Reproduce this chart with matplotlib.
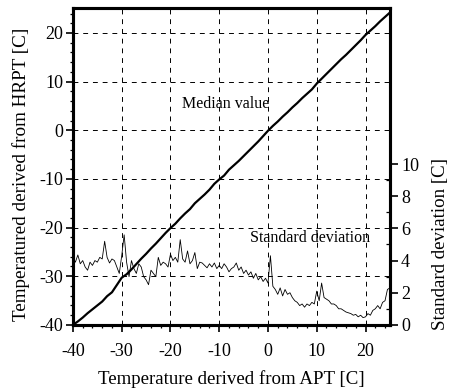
import numpy as np
import matplotlib
matplotlib.use("Agg")
import matplotlib.pyplot as plt
from matplotlib.ticker import MultipleLocator

plt.rcParams['font.family'] = ['Liberation Serif', 'DejaVu Serif']
plt.rcParams['axes.unicode_minus'] = False

# ---- data ----
median_x = list(range(-40, 26))
median_y = [-40.0, -39.3, -38.5, -37.6, -36.8, -36.0, -35.2, -34.1, -33.3, -31.8,
            -30.3, -29.6, -28.6, -27.5, -26.4, -25.4, -24.3, -23.3, -22.2, -21.1,
            -20.1, -19.2, -18.1, -17.1, -16.2, -15.0, -14.1, -13.2, -12.2, -11.0,
            -10.1, -9.3, -8.1, -7.2, -6.3, -5.3, -4.3, -3.3, -2.3, -1.2,
            -0.1, 0.9, 1.8, 2.8, 3.7, 4.7, 5.6, 6.6, 7.5, 8.4,
            9.6, 10.6, 11.6, 12.6, 13.6, 14.6, 15.5, 16.5, 17.5, 18.5,
            19.6, 20.5, 21.4, 22.4, 23.3, 24.2]

std_x = [-40 + 0.5 * i for i in range(131)]
std_y = [4.2, 3.9, 4.35, 3.8, 4.0, 3.6, 3.4, 3.9, 3.7, 4.0,
         3.9, 4.2, 4.1, 5.2, 4.2, 3.85, 4.1, 4.0, 3.6, 3.2,
         4.3, 5.6, 3.9, 3.0, 4.0, 3.5, 3.2, 3.8, 3.6, 3.0,
         2.8, 2.5, 3.4, 3.2, 3.0, 4.2, 3.7, 3.9, 3.8, 3.6,
         4.4, 4.0, 4.2, 3.9, 5.3, 4.1, 3.9, 4.6, 3.8, 4.0,
         4.5, 3.5, 3.9, 3.85, 3.7, 3.55, 3.8, 3.6, 3.85, 3.5,
         3.7, 3.5, 3.8, 3.6, 3.3, 3.5, 3.6, 3.85, 3.4, 3.6,
         3.2, 3.4, 3.1, 3.3, 2.9, 3.2, 2.8, 3.0, 2.7, 2.9,
         2.6, 4.3, 2.4, 2.2, 1.9, 2.3, 1.8, 2.2, 1.9, 2.0,
         1.7, 1.5, 1.4, 1.2, 1.3, 1.1, 1.3, 1.2, 1.4, 1.3,
         2.1, 1.5, 2.6, 1.7, 1.6, 1.5, 1.3, 1.3, 1.2, 1.0,
         1.0, 0.9, 0.8, 0.75, 0.7, 0.6, 0.65, 0.5, 0.6, 0.45,
         0.5, 0.7, 0.6, 0.9, 1.0, 1.2, 1.0, 1.4, 1.5, 2.2,
         2.3]

x_ticks = [-40, -30, -20, -10, 0, 10, 20]
y_ticks = [-40, -30, -20, -10, 0, 10, 20]
std_ticks = [0, 2, 4, 6, 8, 10]

# ---- figure ----
fig = plt.figure(figsize=(4.56, 3.90), dpi=100)
ax = fig.add_axes([0.160, 0.167, 0.695, 0.812])
ax2 = ax.twinx()

ax.plot(median_x, median_y, color='black', lw=1.6, zorder=3)
ax2.plot(std_x, std_y, color='black', lw=0.6, zorder=3)

ax.set_xlim(-40, 25)
ax.set_ylim(-40, 25.1)
ax2.set_ylim(0, 19.7)

ax.set_xticks(x_ticks)
ax.set_yticks(y_ticks)
ax.xaxis.set_minor_locator(MultipleLocator(2))
ax.yaxis.set_minor_locator(MultipleLocator(2))
ax2.set_yticks(std_ticks)
ax2.set_yticks([1, 3, 5, 7, 9], minor=True)

ax.grid(True, which='major', color='black', ls=(0, (5, 5)), lw=0.7)
ax.set_axisbelow(True)

for a in (ax, ax2):
    for s in a.spines.values():
        s.set_linewidth(2.2)

ax.tick_params(which='major', direction='out', length=5, width=1.2, labelsize=13, pad=2)
ax.tick_params(axis='x', which='major', pad=8)
ax.tick_params(which='minor', direction='out', length=2.5, width=0.9)
ax2.tick_params(which='major', direction='out', length=6, width=1.2, labelsize=13, pad=2)
ax2.tick_params(which='minor', direction='in', length=3, width=0.9)

ax.set_xlabel('Temperature derived from APT [C]', fontsize=13.6)
ax.xaxis.set_label_coords(0.5, -0.142)
ax.set_ylabel('Temperatured derived from HRPT [C]', fontsize=13.8)
ax.yaxis.set_label_coords(-0.136, 0.476)
ax2.set_ylabel('Standard deviation [C]', fontsize=13.6)
ax2.yaxis.set_label_coords(1.132, 0.255)

ax.text(-17.7, 5.4, 'Median value', fontsize=11.5, va='center', ha='left')
ax.text(-3.7, -22.1, 'Standard deviation', fontsize=11.5, va='center', ha='left')

fig.savefig('out.png', dpi=100)
